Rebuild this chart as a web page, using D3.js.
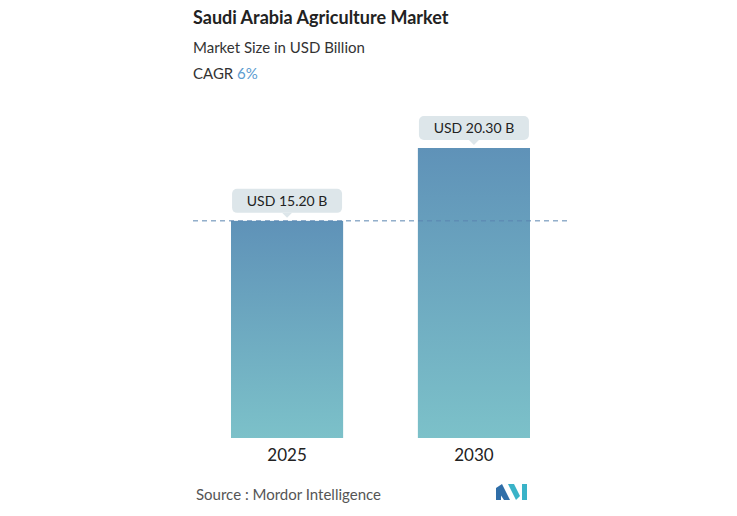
<!DOCTYPE html>
<html><head><meta charset="utf-8">
<script src="https://cdn.jsdelivr.net/npm/d3@7"></script>
<style>body{margin:0;background:#fff;font-family:Lato,"Open Sans",sans-serif}</style>
</head><body>
<svg id="c" width="737" height="516"></svg>
<script>
const years = ['2025', '2030'];
const values = [15.2, 20.3];
const labels = ['USD 15.20 B', 'USD 20.30 B'];

const svg = d3.select('#c');
const x = d3.scaleBand().domain(years).range([231, 530]).paddingInner(0.4).paddingOuter(0);
const y = d3.scaleLinear().domain([0, 20.3]).range([438, 148]);

const grad = svg.append('defs').append('linearGradient').attr('id', 'g')
  .attr('x1', 0).attr('y1', 0).attr('x2', 0).attr('y2', 1);
grad.append('stop').attr('offset', 0).attr('stop-color', '#5f92b8');
grad.append('stop').attr('offset', 1).attr('stop-color', '#7cc1c9');

svg.append('text').attr('x', 193).attr('y', 24).attr('font-size', 18).attr('font-weight', 700)
  .attr('fill', '#222').text('Saudi Arabia Agriculture Market');
svg.append('text').attr('x', 193).attr('y', 53).attr('font-size', 15).attr('fill', '#333').text('Market Size in USD Billion');
const cg = svg.append('text').attr('x', 193).attr('y', 79).attr('font-size', 15).attr('fill', '#333');
cg.append('tspan').text('CAGR ');
cg.append('tspan').attr('fill', '#5b9bd0').text('6%');

svg.selectAll('rect.bar').data(values).join('rect').attr('class', 'bar')
  .attr('x', (d, i) => x(years[i])).attr('width', x.bandwidth())
  .attr('y', d => y(d)).attr('height', d => y(0) - y(d)).attr('fill', 'url(#g)');

svg.append('line').attr('x1', 193).attr('x2', 570).attr('y1', y(values[0])).attr('y2', y(values[0]))
  .attr('stroke', '#5b86b0').attr('stroke-dasharray', '5,4');

values.forEach((v, i) => {
  const cx = x(years[i]) + x.bandwidth() / 2, top = y(v);
  const g = svg.append('g');
  g.append('rect').attr('x', cx - 55).attr('y', top - 32).attr('width', 110).attr('height', 24)
    .attr('rx', 5).attr('fill', '#dde6ea');
  g.append('path').attr('d', `M${cx - 5},${top - 8}L${cx},${top - 3}L${cx + 5},${top - 8}Z`).attr('fill', '#dde6ea');
  g.append('text').attr('x', cx).attr('y', top - 15).attr('text-anchor', 'middle')
    .attr('font-size', 14).attr('fill', '#222').text(labels[i]);
  svg.append('text').attr('x', cx).attr('y', 461).attr('text-anchor', 'middle')
    .attr('font-size', 17).attr('fill', '#222').text(years[i]);
});

svg.append('text').attr('x', 196).attr('y', 500).attr('font-size', 15).attr('fill', '#555')
  .text('Source :  Mordor Intelligence');
const lg = svg.append('g').attr('transform', 'translate(496,484)');
lg.append('path').attr('d', 'M0,4L6,0L14,16L8,16Z').attr('fill', '#2f6ea8');
lg.append('path').attr('d', 'M0,4L5,4L5,16L0,16Z').attr('fill', '#2f6ea8');
lg.append('path').attr('d', 'M12,0L18,0L24,12L20,16Z').attr('fill', '#3ab3c8');
lg.append('path').attr('d', 'M26,0L31,0L31,16L26,16Z').attr('fill', '#3ab3c8');
</script>
</body></html>
